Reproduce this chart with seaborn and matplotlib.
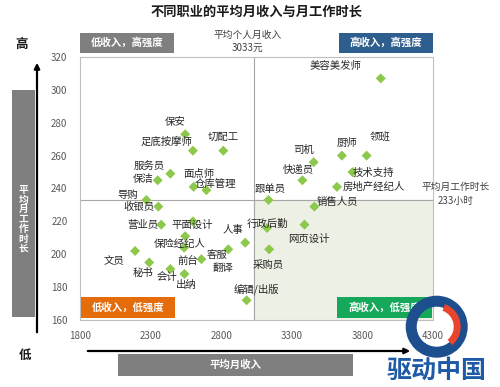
# ============================================
# 不同职业的平均月收入与月工作时长 - quadrant scatter
# ============================================

import numpy as np
import pandas as pd
import matplotlib
matplotlib.use("Agg")
import matplotlib.pyplot as plt
from matplotlib.patches import Rectangle, FancyArrowPatch, Wedge
import seaborn as sns

# --------------------------------------------
# Data
# --------------------------------------------
jobs = ["保安", "足底按摩师", "切配工", "服务员", "保洁", "面点师", "仓库管理",
        "导购", "收银员", "营业员", "平面设计", "保险经纪人", "翻译", "文员",
        "秘书", "会计", "出纳", "前台", "客服", "人事", "编辑/出版", "跟单员",
        "快递员", "司机", "厨师", "领班", "美容美发师", "技术支持",
        "房地产经纪人", "销售人员", "行政后勤", "网页设计", "采购员"]
income = [2545, 2600, 2815, 2440, 2350, 2605, 2695,
          2270, 2355, 2375, 2600, 2545, 2537, 2190,
          2290, 2440, 2540, 2660, 2850, 2970, 2980, 3135,
          3375, 3455, 3655, 3830, 3930, 3730,
          3620, 3460, 3125, 3390, 3140]
hours = [273, 263, 263, 249, 245, 241, 239,
         233, 229, 218, 220, 211, 204, 202,
         195, 191, 188, 197, 203, 207, 172, 233,
         245, 256, 260, 260, 307, 250,
         241, 229, 216, 218, 203]

avg_income = 3033
avg_hours = 233
x_ticks = [1800, 2300, 2800, 3300, 3800, 4300]
y_ticks = [160, 180, 200, 220, 240, 260, 280, 300, 320]

# label offsets in pixels (dx right, dy down)
label_offsets = {
    "保安": (-10, -12), "足底按摩师": (-26, -9), "切配工": (0, -14),
    "服务员": (-21, -8), "保洁": (-14, -1), "面点师": (5, -13),
    "仓库管理": (9, -6), "导购": (-19, -5), "收银员": (-19, 0),
    "营业员": (-18, 0), "平面设计": (-1, 4), "保险经纪人": (-5, 8),
    "翻译": (39, 20), "文员": (-21, 10), "秘书": (-6, 10),
    "会计": (-3, 8), "出纳": (2, 11), "前台": (-14, 2), "客服": (-11, 6),
    "人事": (-12, -13), "编辑/出版": (10, -11), "跟单员": (2, -11),
    "快递员": (-4, -10), "司机": (-10, -12), "厨师": (5, -13),
    "领班": (13, -19), "美容美发师": (-45, -12), "技术支持": (21, 1),
    "房地产经纪人": (37, 0), "销售人员": (23, -5), "行政后勤": (0, -4),
    "网页设计": (4, 14), "采购员": (-1, 16),
}

df = pd.DataFrame({"job": jobs, "income": income, "hours": hours})

# --------------------------------------------
# Settings
# --------------------------------------------
sns.set_theme(style="white")
plt.rcParams['font.family'] = ['Noto Sans CJK SC', 'DejaVu Sans']

W, H = 500, 387
fig = plt.figure(figsize=(W / 100, H / 100), dpi=100)
ax = fig.add_axes([80 / W, 1 - 320 / H, 353 / W, 263 / H])

# shaded low-hours / high-income quadrant
ax.fill_between([avg_income, 4300], 160, avg_hours, color="#edf0e4", zorder=0)
ax.axvline(avg_income, color="#a6a6a6", lw=0.8, zorder=1)
ax.axhline(avg_hours, color="#a6a6a6", lw=0.8, zorder=1)

sns.scatterplot(data=df, x="income", y="hours", marker="D", s=26,
                color="#8cc84b", edgecolor="none", ax=ax, zorder=3)

for job, xv, yv in zip(jobs, income, hours):
    dx, dy = label_offsets[job]
    ax.annotate(job, (xv, yv), xytext=(dx, -dy), textcoords="offset pixels",
                ha="center", va="center", fontsize=7.5, color="#262626",
                zorder=4)

ax.set_xlim(1800, 4300)
ax.set_ylim(160, 320)
ax.set_xticks(x_ticks)
ax.set_yticks(y_ticks)
ax.set_xlabel("")
ax.set_ylabel("")
ax.tick_params(axis="both", length=0, labelsize=7, labelcolor="#595959")
ax.tick_params(axis="x", pad=8)
ax.tick_params(axis="y", pad=9)
for sp in ax.spines.values():
    sp.set_color("#bfbfbf")
    sp.set_linewidth(0.8)


# --------------------------------------------
# Figure decorations (pixel coordinates)
# --------------------------------------------
def px_box(x0, y0, x1, y1, color, text="", fs=7.5, tcolor="white"):
    fig.add_artist(Rectangle((x0 / W, 1 - y1 / H), (x1 - x0) / W, (y1 - y0) / H,
                             transform=fig.transFigure, facecolor=color,
                             edgecolor="none", zorder=5))
    if text:
        fig.text((x0 + x1) / 2 / W, 1 - (y0 + y1) / 2 / H, text, ha="center",
                 va="center", color=tcolor, fontsize=fs, fontweight="bold",
                 zorder=6)


def px_text(x, y, text, **kw):
    fig.text(x / W, 1 - y / H, text, ha="center", va="center", **kw)


def px_arrow(x0, y0, x1, y1):
    fig.add_artist(FancyArrowPatch((x0 / W, 1 - y0 / H), (x1 / W, 1 - y1 / H),
                                   transform=fig.transFigure, arrowstyle="-|>",
                                   mutation_scale=8, lw=1.6, color="black",
                                   zorder=5))


px_text(257, 12, "不同职业的平均月收入与月工作时长", fontsize=9.5,
        fontweight="bold", color="#1a1a1a")

# quadrant tags
px_box(80, 33, 174, 53, "#7f7f7f", "低收入，高强度")
px_box(339, 33, 433, 53, "#2e5e8e", "高收入，高强度")
px_box(81, 297, 175, 318, "#e46c0a", "低收入，低强度")
px_box(337, 297, 432, 318, "#16a85a", "高收入，低强度")

# average notes
px_text(248, 35, "平均个人月收入", fontsize=7, color="#404040")
px_text(248, 48, f"{avg_income}元", fontsize=7, color="#404040")
px_text(456, 187, "平均月工作时长", fontsize=7, color="#404040")
px_text(456, 201, f"{avg_hours}小时", fontsize=7, color="#404040")

# vertical axis decoration
px_text(22, 44, "高", fontsize=9, fontweight="bold", color="#1a1a1a")
px_text(25, 355, "低", fontsize=9, fontweight="bold", color="#1a1a1a")
px_box(12, 90, 35, 317, "#7f7f7f")
for i, ch in enumerate("平均月工作时长"):
    px_text(23.5, 190 + i * 9.7, ch, fontsize=7, fontweight="bold",
            color="white", zorder=6)
px_arrow(37, 335, 37, 60)

# horizontal axis decoration
px_arrow(85, 351, 413, 351)
px_box(118, 354, 353, 376, "#7f7f7f", "平均月收入", fs=7.5)

# watermark logo
c = (436.7 / 100, (H - 326.7) / 100)
fig.add_artist(Wedge(c, 0.31, 0, 360, width=0.11, transform=fig.dpi_scale_trans,
                     facecolor="#1d4f8f", edgecolor="none", zorder=7))
fig.add_artist(Wedge(c, 0.24, -50, 70, width=0.07, transform=fig.dpi_scale_trans,
                     facecolor="#e8452c", edgecolor="none", zorder=8))
px_text(437, 371, "驱动中国", fontsize=18, fontweight="bold", color="#1f5aa6",
        zorder=8)

fig.savefig("out.png", dpi=100)
